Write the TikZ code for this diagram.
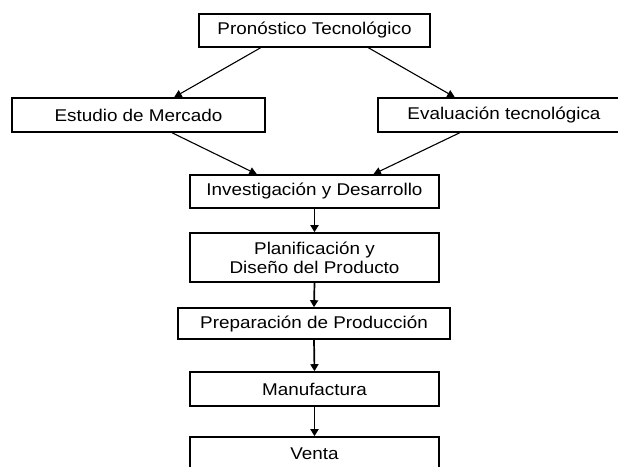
\documentclass[tikz,border=0pt]{standalone}
\usepackage{fontspec}
\setmainfont{Liberation Sans}[FakeStretch=1.11]
\usetikzlibrary{calc,arrows.meta}
\begin{document}
\begin{tikzpicture}[x=1pt,y=-1pt,
  stage/.style={draw=black,line width=1.6pt,fill=white,inner sep=0pt,
    align=center,font=\fontsize{17}{19}\selectfont},
  flow/.style={line width=1.1pt,-{Triangle[length=7.5pt,width=7.5pt]}},
  chain/.style={flow,line width=1.7pt,-{Triangle[length=7pt,width=8pt]}}]
\useasboundingbox (0,0) rectangle (618,466);
\fill[white] (0,0) rectangle (618,466);
\begin{scope}
\clip (0,0) rectangle (618,466);
% stage boxes
\node[stage,minimum width=231pt,minimum height=33pt] (pron) at (314.5,30.5) {Pronóstico Tecnológico};
\node[stage,minimum width=253pt,minimum height=34pt] (merc) at (138.5,115) {Estudio de Mercado};
\node[stage,minimum width=252pt,minimum height=34pt] (eval) at (504,115) {Evaluación tecnológica};
\node[stage,minimum width=249pt,minimum height=33pt] (inv) at (314.5,191.5) {Investigación y Desarrollo};
\node[stage,minimum width=249pt,minimum height=49pt] (plan) at (314.5,257.5) {Planificación y\\Diseño del Producto};
\node[stage,minimum width=272pt,minimum height=31pt] (prep) at (314,323.5) {Preparación de Producción};
\node[stage,minimum width=249pt,minimum height=34pt] (manu) at (314.5,389) {Manufactura};
\node[stage,minimum width=249pt,minimum height=34pt] (vent) at (314.5,454) {Venta};
% diagonal connectors
\draw[flow] ($(pron.south west)!0.268!(pron.south east)$) -- ($(merc.north west)!0.64!(merc.north east)$);
\draw[flow] ($(pron.south west)!0.732!(pron.south east)$) -- ($(eval.north west)!0.306!(eval.north east)$);
\draw[flow] ($(merc.south west)!0.632!(merc.south east)$) -- ($(inv.north west)!0.27!(inv.north east)$);
\draw[flow] ($(eval.south west)!0.325!(eval.south east)$) -- ($(inv.north west)!0.735!(inv.north east)$);
% vertical chain
\draw[chain] (inv.south) -- (plan.north);
\draw[chain] (plan.south) -- (prep.north);
\draw[chain] (prep.south) -- (manu.north);
\draw[chain] (manu.south) -- (vent.north);
\end{scope}
\end{tikzpicture}
\end{document}
